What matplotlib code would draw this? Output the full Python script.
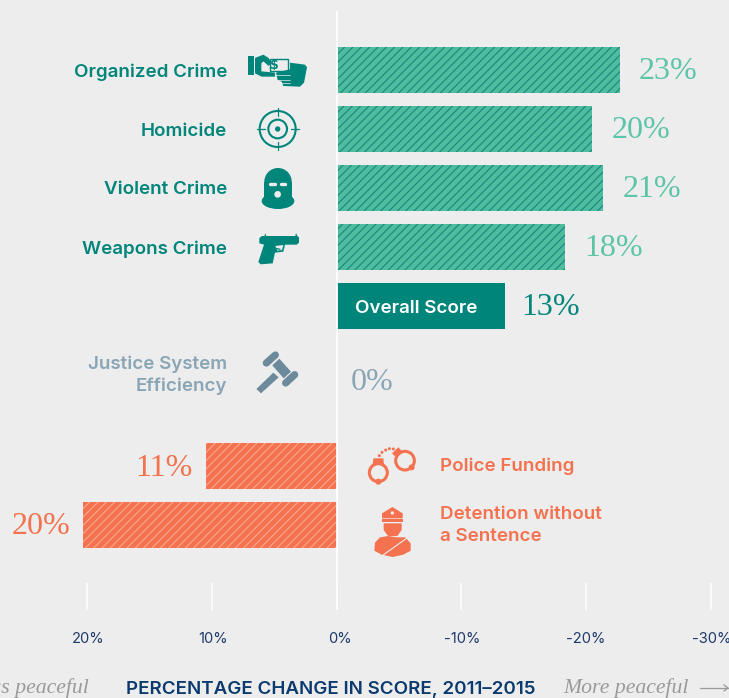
import matplotlib
matplotlib.use("Agg")
import matplotlib.pyplot as plt
from matplotlib.patches import Circle, Polygon, Rectangle, Ellipse
from matplotlib.lines import Line2D
from matplotlib.transforms import ScaledTranslation

# ---- data
top_labels = ["Organized Crime", "Homicide", "Violent Crime", "Weapons Crime"]
top_values = [22.7, 20.5, 21.4, 18.3]
top_text = ["23%", "20%", "21%", "18%"]
overall_label = "Overall Score"
overall_value = 13.5
overall_text = "13%"
justice_label = "Justice System\nEfficiency"
justice_text = "0%"
low_labels = ["Police Funding", "Detention without\na Sentence"]
low_values = [10.5, 20.3]
low_text = ["11%", "20%"]
tick_values = [20, 10, 0, -10, -20, -30]
tick_labels = ["20%", "10%", "0%", "-10%", "-20%", "-30%"]
axis_title = "PERCENTAGE CHANGE IN SCORE, 2011\u20132015"

# ---- style
BG = "#ededed"; TEAL = "#00857a"; LT = "#4fbca0"; LTXT = "#5cc4a8"; HT = "#17877c"
OR = "#f4724f"; ORH = "#f9a88f"; GR = "#6d8a9c"; GRT = "#8aa5b5"; NAVY = "#1f3a6b"; TITLE = "#0b3a6e"
SANS = ["Inter", "DejaVu Sans"]; SERIF = "Liberation Serif"
W, H = 729, 698
plt.rcParams["hatch.linewidth"] = 0.8
fig = plt.figure(figsize=(W / 100, H / 100), dpi=100, facecolor=BG)
AB = 610
ax = fig.add_axes([0, 1 - AB / H, 1, AB / H], facecolor=BG)
SC = 12.47; X0 = 336.5
ax.set_xlim(X0 / SC, (X0 - W) / SC)
ax.set_ylim(AB, 0)
for s in ax.spines.values():
    s.set_visible(False)
ax.set_yticks([])
ax.set_xticks(tick_values, tick_labels)
ax.tick_params(axis="x", direction="in", length=19.5, width=1.1, color="white", pad=16,
               labelsize=10.6, labelcolor=NAVY)
offs = [1.5, 1.5, 3, 0.5, 0, 1]
for lab, o in zip(ax.get_xticklabels(), offs):
    lab.set_fontfamily(SANS)
    lab.set_transform(lab.get_transform() + ScaledTranslation(o / 100, 0, fig.dpi_scale_trans))
ax.axvline(0, color="white", lw=1.3, ymin=0, ymax=1 - 12 / AB, zorder=5)

top_y = [69.5, 128.5, 187.5, 246.5]
ax.barh(top_y, [-v for v in top_values], height=46, color=LT, edgecolor=HT, hatch="////", linewidth=0)
ax.barh([305.5], [-overall_value], height=46, color=TEAL, linewidth=0)
low_y = [466, 525]
ax.barh(low_y, low_values, height=46, color=OR, edgecolor=ORH, hatch="////", linewidth=0)

def px(x):
    return (X0 - x) / SC

lab_kw = dict(fontfamily=SANS, fontsize=13.5, fontweight=600)
val_kw = dict(fontfamily=SERIF, fontsize=23)
for y, lab, v, t in zip(top_y, top_labels, top_values, top_text):
    ax.text(px(227), y + 2.5, lab, ha="right", va="center", color=TEAL, **lab_kw)
    ax.annotate(t, (-v, y + 2), xytext=(14, 0), textcoords="offset points", ha="left", va="center", color=LTXT, **val_kw)
ax.text(px(355), 308.5, overall_label, ha="left", va="center", color="white", **lab_kw)
ax.annotate(overall_text, (-overall_value, 307.5), xytext=(12, 0), textcoords="offset points",
            ha="left", va="center", color=TEAL, **val_kw)
ax.text(px(227), 375.5, justice_label, ha="right", va="center", color=GRT, linespacing=1.36, **lab_kw)
ax.text(px(351), 382, justice_text, ha="left", va="center", color=GRT, **val_kw)
for y, ty, lab, v, t in zip(low_y, [466.5, 525.5], low_labels, low_values, low_text):
    ax.text(px(440), ty, lab, ha="left", va="center", color=OR, linespacing=1.36, **lab_kw)
    ax.annotate(t, (v, y + 2), xytext=(-9, 0), textcoords="offset points", ha="right", va="center", color=OR, **val_kw)

# ---- icons and footer in pixel coordinates
ov = fig.add_axes([0, 0, 1, 1], facecolor="none")
ov.set_xlim(0, W); ov.set_ylim(H, 0); ov.axis("off")

ov.text(331, 689, axis_title, ha="center", va="center", color=TITLE, fontfamily=SANS, fontsize=13.5, fontweight=600)
ov.text(89, 688, "Less peaceful", ha="right", va="center", color="#9a9a9a", fontfamily=SERIF, style="italic", fontsize=15.7)
ov.text(563, 688, "More peaceful", ha="left", va="center", color="#9a9a9a", fontfamily=SERIF, style="italic", fontsize=15.7)
ov.add_line(Line2D([700, 728], [688, 688], color="#9a9a9a", lw=0.9))
ov.add_line(Line2D([724, 728, 724], [685, 688, 691], color="#9a9a9a", lw=0.9))

def poly(pts, ox, oy, color, z=2):
    ov.add_patch(Polygon([(ox + a / 3, oy + b / 3) for a, b in pts], closed=True, fc=color, ec="none", zorder=z))

def seg(p, q, ox, oy, color, lw, z=3):
    ov.add_line(Line2D([ox + p[0] / 3, ox + q[0] / 3], [oy + p[1] / 3, oy + q[1] / 3], color=color, lw=lw,
                       solid_capstyle="round", zorder=z))

def circ(c, r, ox, oy, fc, ec="none", lw=0, z=3):
    ov.add_patch(Circle((ox + c[0] / 3, oy + c[1] / 3), r / 3, fc=fc, ec=ec, lw=lw, zorder=z))

# money hand
o = (230, 30)
poly([(54, 78), (72, 78), (72, 135), (54, 135)], *o, TEAL)
poly([(75, 84), (100, 74), (116, 84), (124, 98), (116, 108), (100, 94), (94, 100), (94, 124), (135, 128), (135, 140), (95, 140), (75, 130)], *o, TEAL)
ov.add_patch(Rectangle((230 + 120 / 3, 30 + 86 / 3), 55 / 3, 38 / 3, fc="none", ec=TEAL, lw=1, zorder=2))
ov.text(230 + 133 / 3, 30 + 108 / 3, "$", ha="center", va="center", color=TEAL, fontsize=9, fontweight="bold", zorder=3)
poly([(180, 98), (225, 104), (231, 112), (222, 158), (210, 170), (160, 168), (155, 155), (143, 150), (138, 128), (180, 118)], *o, TEAL, z=4)
for a, b in [((136, 136), (180, 136)), ((140, 149), (180, 149)), ((152, 159), (180, 159))]:
    seg(a, b, *o, BG, 0.5, z=5)

# target
c = (143, 297)
circ(c, 54, *o, "none", TEAL, 1.5)
circ(c, 28, *o, "none", TEAL, 1.5)
circ(c, 8, *o, TEAL)
seg((143, 235), (143, 258), *o, TEAL, 0.9); seg((143, 336), (143, 360), *o, TEAL, 0.9)
seg((80, 297), (105, 297), *o, TEAL, 0.9); seg((182, 297), (207, 297), *o, TEAL, 0.9)

# balaclava
ov.add_patch(Ellipse((230 + 144 / 3, 30 + 513 / 3), 98 / 3, 48 / 3, fc=TEAL, ec="none", zorder=2))
ov.add_patch(Ellipse((230 + 144 / 3, 30 + 455 / 3), 82 / 3, 82 / 3, fc=TEAL, ec="none", zorder=2))
poly([(103, 455), (185, 455), (185, 510), (103, 510)], *o, TEAL)
seg((121, 463), (134, 463), *o, BG, 2.4); seg((154, 463), (166, 463), *o, BG, 2.4)
circ((143, 493), 10, *o, BG)

# gun
o = (230, 200)
poly([(88, 114), (96, 108), (104, 108), (105, 99), (109, 108), (196, 108), (198, 99), (202, 108), (207, 112), (207, 128), (200, 134),
      (165, 134), (160, 155), (135, 158), (128, 190), (92, 193), (85, 186), (102, 134), (88, 130)], *o, TEAL)
poly([(136, 138), (160, 135), (156, 150), (142, 152)], *o, BG, z=3)
seg((137, 145), (150, 148), *o, TEAL, 0.9, z=4)

# gavel
poly([(127, 496), (148, 476), (183, 515), (161, 535)], *o, GR)
poly([(79, 567), (130, 518), (146, 532), (93, 580)], *o, GR)
seg((109, 489), (136, 465), *o, GR, 5.2); seg((167, 549), (194, 524), *o, GR, 5.2)

# handcuffs
o = (180, 430)
circ((595, 128), 27, *o, "none", OR, 2.2)
poly([(580, 85), (610, 85), (612, 104), (578, 104)], *o, OR)
circ((595, 155), 9, *o, OR)
circ((675, 92), 28, *o, "none", OR, 2.2)
poly([(636, 70), (655, 52), (668, 66), (650, 84)], *o, OR)
circ((695, 112), 9, *o, OR)
for d in [(598, 77), (606, 67), (617, 60), (628, 56), (640, 57)]:
    circ(d, 4.5, *o, OR)

# officer
poly([(606, 250), (637, 231), (668, 250), (668, 265), (606, 265)], *o, OR)
circ((637, 249), 5, *o, BG, z=4)
poly([(606, 268), (668, 268), (668, 277), (606, 277)], *o, OR)
poly([(611, 280), (665, 280), (665, 300), (652, 318), (624, 318), (611, 300)], *o, OR)
poly([(600, 322), (625, 318), (650, 322), (676, 322), (692, 340), (692, 362), (670, 374), (638, 381), (605, 374), (583, 362), (585, 338)], *o, OR)
seg((608, 376), (684, 322), *o, BG, 0.8, z=4)

fig.savefig("out.png", dpi=100, facecolor=BG)
